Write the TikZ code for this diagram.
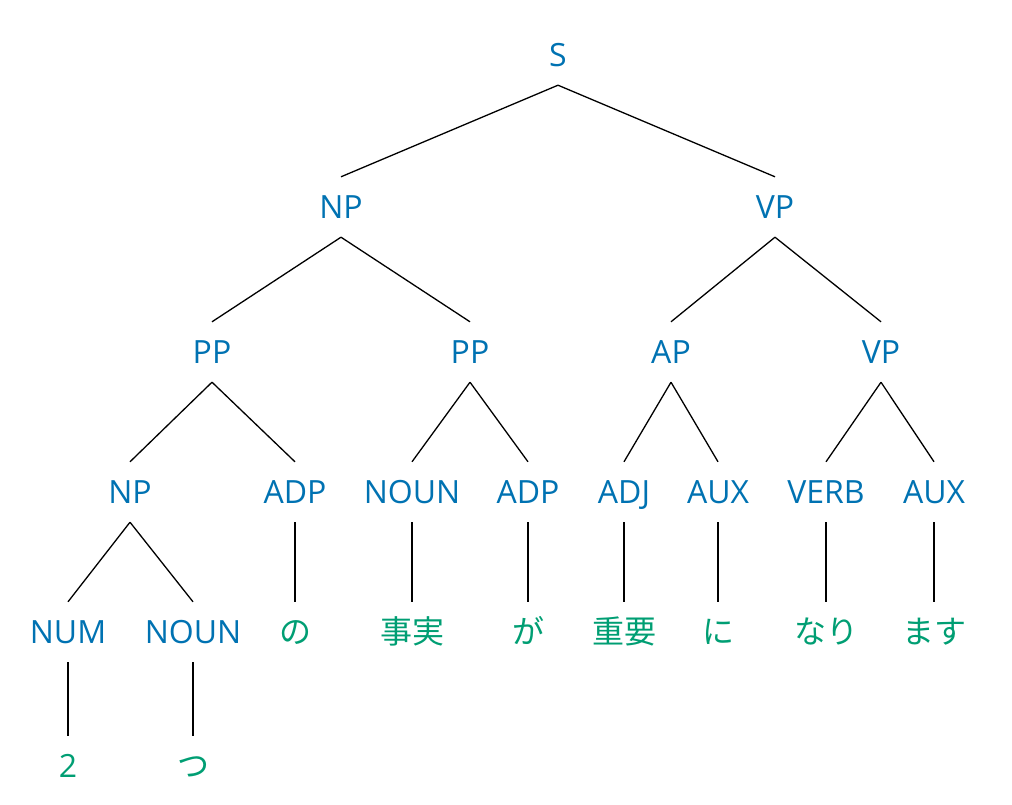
\documentclass[tikz,border=0pt]{standalone}
\usepackage{fontspec}
\setmainfont{Open Sans}
\newfontfamily\jp{Noto Sans CJK JP}
\definecolor{tagblue}{HTML}{0072B2}
\definecolor{wordgreen}{HTML}{009E73}
\tikzset{
  lbl/.style={inner sep=0pt, minimum height=60pt, text height=22.8pt, text depth=0pt, font=\fontsize{32}{32}\selectfont},
  tag/.style={lbl, text=tagblue},
  word/.style={lbl, text=wordgreen, font=\fontsize{32}{32}\selectfont\jp},
  edge/.style={line width=1.3pt, black}
}
\begin{document}
\begin{tikzpicture}[x=1pt,y=-1pt]
\useasboundingbox (0,0) rectangle (1012,805);
\node[tag] (s) at (558,55) {S};
\node[tag] (np1) at (341,207) {NP};
\node[tag] (vp1) at (775,207) {VP};
\node[tag] (pp1) at (212,352) {PP};
\node[tag] (pp2) at (470,352) {PP};
\node[tag] (ap) at (671,352) {AP};
\node[tag] (vp2) at (881,352) {VP};
\node[tag] (np2) at (130,492) {NP};
\node[tag] (adp1) at (295,492) {ADP};
\node[tag] (noun1) at (412,492) {NOUN};
\node[tag] (adp2) at (528,492) {ADP};
\node[tag] (adj) at (624,492) {ADJ};
\node[tag] (aux1) at (718,492) {AUX};
\node[tag] (verb) at (826,492) {VERB};
\node[tag] (aux2) at (934,492) {AUX};
\node[tag] (num) at (68,632) {NUM};
\node[tag] (noun2) at (193,632) {NOUN};
\node[word] (w1) at (295,632) {の};
\node[word] (w2) at (412,632) {事実};
\node[word] (w3) at (528,632) {が};
\node[word] (w4) at (624,632) {重要};
\node[word] (w5) at (718,632) {に};
\node[word] (w6) at (826,632) {なり};
\node[word] (w7) at (934,632) {ます};
\node[word, font=\fontsize{32}{32}\selectfont] (w8) at (68,766) {2};
\node[word] (w9) at (193,766) {つ};
\draw[edge] (s.south) -- (np1.north);
\draw[edge] (s.south) -- (vp1.north);
\draw[edge] (np1.south) -- (pp1.north);
\draw[edge] (np1.south) -- (pp2.north);
\draw[edge] (vp1.south) -- (ap.north);
\draw[edge] (vp1.south) -- (vp2.north);
\draw[edge] (pp1.south) -- (np2.north);
\draw[edge] (pp1.south) -- (adp1.north);
\draw[edge] (pp2.south) -- (noun1.north);
\draw[edge] (pp2.south) -- (adp2.north);
\draw[edge] (ap.south) -- (adj.north);
\draw[edge] (ap.south) -- (aux1.north);
\draw[edge] (vp2.south) -- (verb.north);
\draw[edge] (vp2.south) -- (aux2.north);
\draw[edge] (np2.south) -- (num.north);
\draw[edge] (np2.south) -- (noun2.north);
\draw[edge] (adp1.south) -- (w1.north);
\draw[edge] (noun1.south) -- (w2.north);
\draw[edge] (adp2.south) -- (w3.north);
\draw[edge] (adj.south) -- (w4.north);
\draw[edge] (aux1.south) -- (w5.north);
\draw[edge] (verb.south) -- (w6.north);
\draw[edge] (aux2.south) -- (w7.north);
\draw[edge] (num.south) -- (w8.north);
\draw[edge] (noun2.south) -- (w9.north);
\end{tikzpicture}
\end{document}
